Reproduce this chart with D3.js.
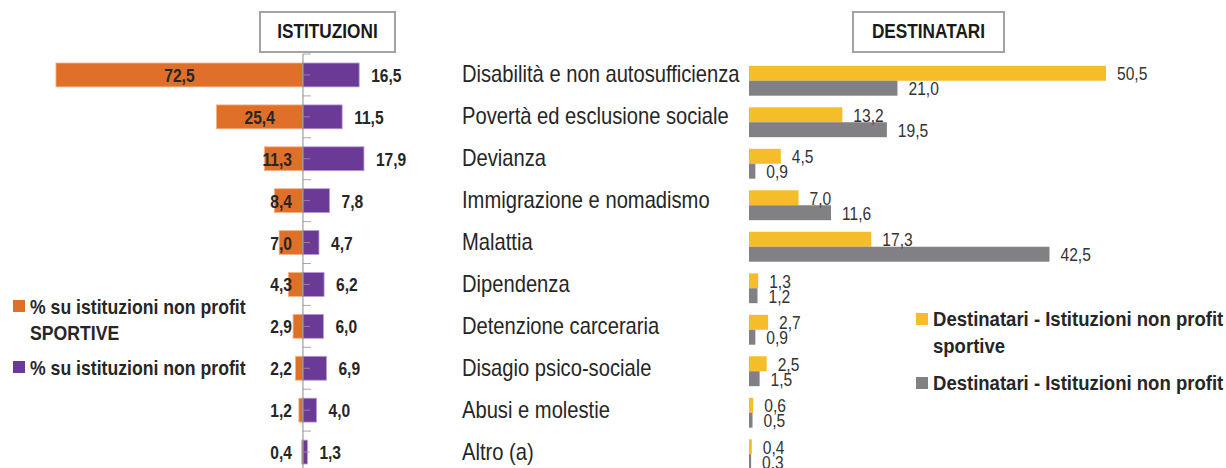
<!DOCTYPE html>
<html>
<head>
<meta charset="utf-8">
<script src="https://cdn.jsdelivr.net/npm/d3@7"></script>
<style>
  html, body { margin: 0; padding: 0; background: #fff; }
  svg { display: block; }
</style>
</head>
<body>
<div id="chart"></div>
<script>
const width = 1226;
const height = 468;

// data
const categories = [
  "Disabilità e non autosufficienza",
  "Povertà ed esclusione sociale",
  "Devianza",
  "Immigrazione e nomadismo",
  "Malattia",
  "Dipendenza",
  "Detenzione carceraria",
  "Disagio psico-sociale",
  "Abusi e molestie",
  "Altro (a)"
];
const istSportive = [72.5, 25.4, 11.3, 8.4, 7.0, 4.3, 2.9, 2.2, 1.2, 0.4];
const istNonProfit = [16.5, 11.5, 17.9, 7.8, 4.7, 6.2, 6.0, 6.9, 4.0, 1.3];
const destSportive = [50.5, 13.2, 4.5, 7.0, 17.3, 1.3, 2.7, 2.5, 0.6, 0.4];
const destNonProfit = [21.0, 19.5, 0.9, 11.6, 42.5, 1.2, 0.9, 1.5, 0.5, 0.3];

const leftLegend = [
  { lines: ["% su istituzioni non profit", "SPORTIVE"], color: "#E07029" },
  { lines: ["% su istituzioni non profit"], color: "#6B3A96" }
];
const rightLegend = [
  { lines: ["Destinatari - Istituzioni non profit", "sportive"], color: "#F6BD2B" },
  { lines: ["Destinatari - Istituzioni non profit"], color: "#818185" }
];

const fmt = v => d3.format(".1f")(v).replace(".", ",");

const svg = d3.select("#chart").append("svg")
  .attr("width", width)
  .attr("height", height)
  .attr("font-family", "'Liberation Sans', Arial, sans-serif");

// ---------- left: istituzioni ----------
const yLeft = d3.scaleBand()
  .domain(categories)
  .range([54, 473])
  .paddingInner(0.43)
  .paddingOuter(0.215);

const xLeft = d3.scaleLinear().domain([-80, 20]).range([30.4, 371.1]);
const x0 = xLeft(0);

const leftRows = categories.map((c, i) => ({ cat: c, sp: istSportive[i], np: istNonProfit[i] }));

const left = svg.append("g");

left.selectAll("rect.sp")
  .data(leftRows)
  .join("rect")
  .attr("class", "sp")
  .attr("x", d => xLeft(-d.sp))
  .attr("y", d => yLeft(d.cat))
  .attr("width", d => x0 - xLeft(-d.sp))
  .attr("height", yLeft.bandwidth())
  .attr("fill", "#E07029")
  .attr("stroke", "#f2b48a")
  .attr("stroke-width", 0.8);

left.selectAll("rect.np")
  .data(leftRows)
  .join("rect")
  .attr("class", "np")
  .attr("x", x0)
  .attr("y", d => yLeft(d.cat))
  .attr("width", d => xLeft(d.np) - x0)
  .attr("height", yLeft.bandwidth())
  .attr("fill", "#6B3A96")
  .attr("stroke", "#b69ccf")
  .attr("stroke-width", 0.8);

// axis with center ticks
const axisG = left.append("g")
  .attr("transform", `translate(${x0},0)`)
  .call(d3.axisRight(yLeft).tickSize(7).tickFormat(""));
axisG.select(".domain").remove();
axisG.selectAll(".tick line").attr("stroke", "#9a9a9a").attr("stroke-opacity", 0.8);

// boundary ticks and axis line
const bounds = categories.map(c => yLeft(c) - yLeft.step() * yLeft.paddingInner() / 2);
bounds.push(yLeft.range()[1]);
left.selectAll("line.bound")
  .data(bounds)
  .join("line")
  .attr("class", "bound")
  .attr("x1", x0).attr("x2", x0 + 8)
  .attr("y1", d => d).attr("y2", d => d)
  .attr("stroke", "#a8a8a8");
left.append("line")
  .attr("x1", x0).attr("x2", x0)
  .attr("y1", bounds[0]).attr("y2", height)
  .attr("stroke", "#8a8a8a");

const cy = d => yLeft(d.cat) + yLeft.bandwidth() / 2;

left.selectAll("text.sp")
  .data(leftRows)
  .join("text")
  .attr("class", "sp nar")
  .attr("x", d => {
    const w = x0 - xLeft(-d.sp);
    return w > 50 ? xLeft(-d.sp) + w / 2 : 292;
  })
  .attr("y", d => cy(d) + 7)
  .attr("text-anchor", d => (x0 - xLeft(-d.sp)) > 50 ? "middle" : "end")
  .attr("font-size", 19)
  .attr("font-weight", "bold")
  .attr("fill", "#262626")
  .text(d => fmt(d.sp));

left.selectAll("text.np")
  .data(leftRows)
  .join("text")
  .attr("class", "np nar")
  .attr("x", d => xLeft(d.np) + 12)
  .attr("y", d => cy(d) + 7)
  .attr("font-size", 19)
  .attr("font-weight", "bold")
  .attr("fill", "#262626")
  .text(d => fmt(d.np));

// category labels
svg.append("g").selectAll("text")
  .data(categories)
  .join("text")
  .attr("class", "nar")
  .attr("data-sq", 0.84)
  .attr("x", 462)
  .attr("y", d => yLeft(d) + yLeft.bandwidth() / 2 + 7.5)
  .attr("font-size", 24)
  .attr("fill", "#262626")
  .text(d => d);

// ---------- right: destinatari ----------
const yRight = d3.scaleBand()
  .domain(categories)
  .range([60, 475])
  .paddingInner(0.28)
  .paddingOuter(0.14);
const ySub = d3.scaleBand().domain(["sp", "np"]).range([0, yRight.bandwidth()]);
const xRight = d3.scaleLinear().domain([0, 60]).range([749, 1173.2]);

const rightRows = categories.flatMap((c, i) => [
  { cat: c, key: "sp", v: destSportive[i], color: "#F6BD2B" },
  { cat: c, key: "np", v: destNonProfit[i], color: "#818185" }
]);

const right = svg.append("g");
right.selectAll("rect")
  .data(rightRows)
  .join("rect")
  .attr("x", xRight(0))
  .attr("y", d => yRight(d.cat) + ySub(d.key))
  .attr("width", d => xRight(d.v) - xRight(0))
  .attr("height", ySub.bandwidth())
  .attr("fill", d => d.color);

right.selectAll("text")
  .data(rightRows)
  .join("text")
  .attr("class", "nar")
  .attr("x", d => xRight(d.v) + 11)
  .attr("y", d => yRight(d.cat) + ySub(d.key) + ySub.bandwidth() / 2 + 7)
  .attr("font-size", 19)
  .attr("fill", "#333")
  .text(d => fmt(d.v));

// ---------- header boxes ----------
const headers = [
  { label: "ISTITUZIONI", x: 260, w: 135 },
  { label: "DESTINATARI", x: 853, w: 151 }
];
const hg = svg.append("g").selectAll("g")
  .data(headers)
  .join("g");
hg.append("rect")
  .attr("x", d => d.x).attr("y", 12)
  .attr("width", d => d.w).attr("height", 40)
  .attr("fill", "#fff")
  .attr("stroke", "#a3a3a3")
  .attr("stroke-width", 2);
hg.append("text")
  .attr("class", "nar")
  .attr("x", d => d.x + d.w / 2)
  .attr("y", 38)
  .attr("text-anchor", "middle")
  .attr("font-size", 21)
  .attr("font-weight", "bold")
  .attr("fill", "#1a1a1a")
  .text(d => d.label);

// ---------- legends ----------
function drawLegend(items, x, ys, size, sq, gap) {
  const g = svg.append("g");
  items.forEach((it, i) => {
    g.append("rect")
      .attr("x", x).attr("y", ys[i] - 6)
      .attr("width", 12).attr("height", 12)
      .attr("fill", it.color);
    it.lines.forEach((ln, j) => {
      g.append("text")
        .attr("class", "nar")
        .attr("data-sq", sq)
        .attr("x", x + 17)
        .attr("y", ys[i] + size * 0.36 + j * gap)
        .attr("font-size", size)
        .attr("font-weight", "bold")
        .attr("fill", "#262626")
        .text(ln);
    });
  });
}
drawLegend(leftLegend, 13, [306, 367], 21, 0.84, 26);
drawLegend(rightLegend, 916, [319, 383], 19.5, 0.95, 27);

// squeeze text horizontally to imitate a narrow typeface
svg.selectAll("text.nar").each(function () {
  const w = this.getComputedTextLength();
  const sq = +(this.getAttribute("data-sq") || 0.82);
  d3.select(this)
    .attr("textLength", w * sq)
    .attr("lengthAdjust", "spacingAndGlyphs");
});
</script>
</body>
</html>
